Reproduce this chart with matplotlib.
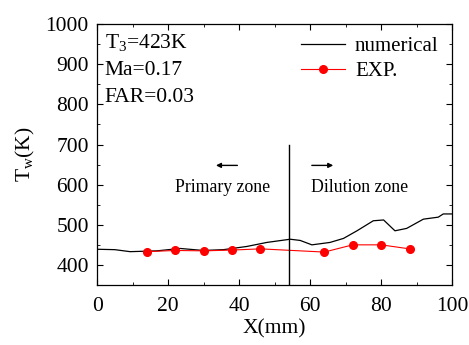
import matplotlib
matplotlib.use("Agg")
import matplotlib.pyplot as plt
from matplotlib.ticker import MultipleLocator

plt.rcParams['font.family'] = ['Liberation Serif', 'DejaVu Serif']
plt.rcParams['mathtext.fontset'] = 'custom'
plt.rcParams['mathtext.rm'] = 'Liberation Serif'
plt.rcParams['mathtext.it'] = 'Liberation Serif'

num_x = [0, 5, 9.3, 16.8, 23.4, 29.9, 35.6, 42.2, 47.8, 54.4, 57.2, 60.5, 65.6,
         69.4, 73.2, 77.8, 80.7, 83.9, 87.2, 91.9, 96.1, 97.5, 99.9]
num_y = [439, 438, 433, 435, 441, 436, 438, 446, 456, 464, 461, 450, 456,
         466, 485, 510, 512, 485, 491, 514, 519, 527, 527]

exp_x = [14, 22, 30, 38, 46, 64, 72, 80, 88]
exp_y = [433, 436, 435, 437, 440, 432, 450, 450, 440]

fig = plt.figure(figsize=(4.69, 3.45), dpi=100)
ax = fig.add_axes([0.207, 0.174, 0.757, 0.756])

ax.plot(num_x, num_y, color='black', lw=0.9, label='numerical')
ax.plot(exp_x, exp_y, color='red', lw=0.8, marker='o', markersize=5.5, label='EXP.')

ax.plot([54, 54], [350, 700], color='black', lw=1.0)
ax.annotate('', xy=(32.7, 648), xytext=(40.3, 648),
            arrowprops=dict(arrowstyle='-|>', color='black', lw=1.0, mutation_scale=7))
ax.annotate('', xy=(67.3, 648), xytext=(59.7, 648),
            arrowprops=dict(arrowstyle='-|>', color='black', lw=1.0, mutation_scale=7))
ax.text(35.4, 592, 'Primary zone', ha='center', va='center', fontsize=12.8)
ax.text(73.8, 592, 'Dilution zone', ha='center', va='center', fontsize=12.8)

ax.text(2.2, 955, r'T$_{3}$=423K', ha='left', va='center', fontsize=15.5)
ax.text(2.2, 885, 'Ma=0.17', ha='left', va='center', fontsize=15.5)
ax.text(2.2, 816, 'FAR=0.03', ha='left', va='center', fontsize=15.5)

ax.set_xlim(0, 100)
ax.set_ylim(350, 1000)
ax.xaxis.set_major_locator(MultipleLocator(20))
ax.xaxis.set_minor_locator(MultipleLocator(10))
ax.yaxis.set_major_locator(MultipleLocator(100))
ax.yaxis.set_minor_locator(MultipleLocator(50))
ax.set_yticks(range(400, 1001, 100))
ax.tick_params(which='both', direction='in', top=True, right=True, labelsize=15.5)
ax.tick_params(which='major', length=4)
ax.tick_params(which='minor', length=2)
ax.tick_params(axis='x', which='major', pad=9)
ax.tick_params(axis='y', which='major', pad=6)
for s in ax.spines.values():
    s.set_linewidth(0.9)

ax.set_xlabel('X(mm)', fontsize=15.5, labelpad=2)
ax.set_ylabel(r'T$_{w}$(K)', fontsize=15.5, labelpad=6)

ax.legend(loc='upper right', frameon=False, fontsize=15, handlelength=2.1,
          borderaxespad=0.2, handletextpad=0.5, labelspacing=0.25,
          bbox_to_anchor=(0.997, 1.0))

fig.savefig('out.png', dpi=100)
